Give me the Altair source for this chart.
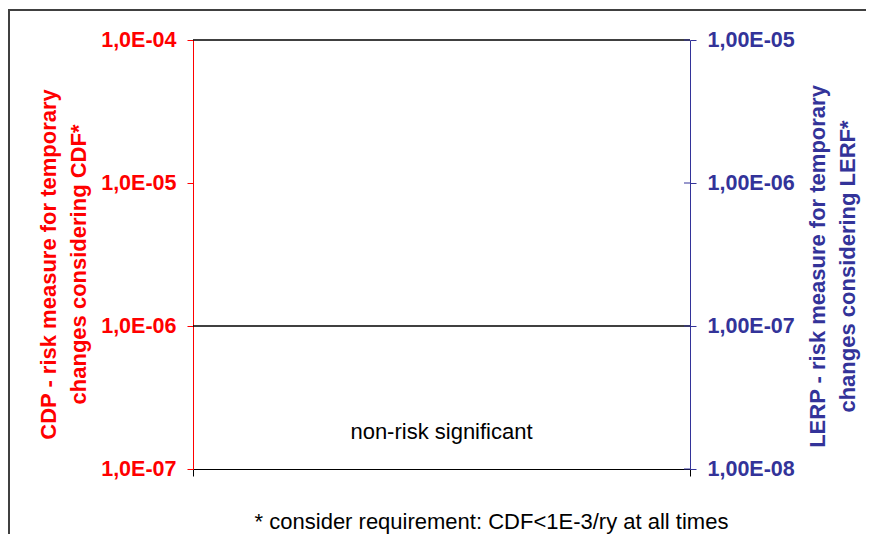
import altair as alt
import pandas as pd

# ---- data ----
left_ticks = [1e-4, 1e-5, 1e-6, 1e-7]
right_ticks = [1e-5, 1e-6, 1e-7, 1e-8]
threshold_lines = [1e-4, 1e-6]
annot_text = ["non-risk significant"]
annot_x = [0.5]
annot_y = [1.8e-7]
footnote = "* consider requirement: CDF<1E-3/ry at all times"
left_title = ["CDP - risk measure for temporary", "changes considering CDF*"]
right_title = ["LERP - risk measure for temporary", "changes considering LERF*"]

RED = "#FF0000"
NAVY = "#333399"
FONT = "Liberation Sans"
W, H = 497, 429

left_scale = alt.Scale(type="log", domain=[1e-7, 1e-4], nice=False)
right_scale = alt.Scale(type="log", domain=[1e-8, 1e-5], nice=False)

left_axis = alt.Axis(
    orient="left", values=left_ticks, grid=False,
    labelExpr="'1,0E-0' + (-round(log(datum.value)/LN10))",
    labelColor=RED, labelFont=FONT, labelFontSize=21.5, labelFontWeight="bold",
    labelPadding=11, tickColor=RED, tickSize=6, domainColor=RED,
    title=left_title, titleColor=RED, titleFont=FONT, titleFontSize=22,
    titleFontWeight="bold", titleAngle=270, titleAlign="center",
    titleBaseline="middle", titleX=-145, titleY=224, titleLineHeight=30,
)
right_axis = alt.Axis(
    orient="right", values=right_ticks, grid=False,
    labelExpr="'1,00E-0' + (-round(log(datum.value)/LN10))",
    labelColor=NAVY, labelFont=FONT, labelFontSize=21.5, labelFontWeight="bold",
    labelPadding=11, tickColor=NAVY, tickSize=6, domainColor=NAVY,
    title=right_title, titleColor=NAVY, titleFont=FONT, titleFontSize=22,
    titleFontWeight="bold", titleAngle=270, titleAlign="center",
    titleBaseline="middle", titleX=127, titleY=226, titleLineHeight=30,
)

lines_df = pd.DataFrame({"y": threshold_lines})
annot_df = pd.DataFrame({"x": annot_x, "y": annot_y, "t": annot_text})
right_df = pd.DataFrame({"y": right_ticks})
one = pd.DataFrame({"k": [0]})

frame = alt.Chart(one).mark_rect(fillOpacity=0, stroke="#404040", strokeWidth=2).encode(
    x=alt.value(-184), x2=alt.value(720), y=alt.value(-30), y2=alt.value(560)
)

rules = alt.Chart(lines_df).mark_rule(color="black", strokeWidth=1.3).encode(
    y=alt.Y("y:Q", scale=left_scale, axis=left_axis)
)

annot = alt.Chart(annot_df).mark_text(
    font=FONT, fontSize=22, color="black", align="center", baseline="middle"
).encode(
    x=alt.X("x:Q", scale=alt.Scale(domain=[0, 1]),
            axis=alt.Axis(values=[0, 1], labels=False, title=None, grid=False,
                          domainColor="black", tickColor="black", tickSize=7)),
    y=alt.Y("y:Q", scale=left_scale, axis=left_axis),
    text="t:N",
)

foot = alt.Chart(one).mark_text(
    text=footnote, font=FONT, fontSize=22, color="black", align="center", baseline="middle"
).encode(x=alt.value(298.5), y=alt.value(482))

left_group = alt.layer(frame, rules, annot, foot)

right_ticks_inner = alt.Chart(right_df).mark_rule(color=NAVY, strokeWidth=1).encode(
    y=alt.Y("y:Q", scale=right_scale, axis=right_axis),
    x=alt.value(W - 6), x2=alt.value(W),
)

chart = alt.layer(left_group, right_ticks_inner).resolve_scale(y="independent").properties(
    width=W, height=H,
    autosize=alt.AutoSizeParams(type="none"),
    padding={"left": 185, "top": 32, "right": 176, "bottom": 65},
    background="white",
).configure_view(stroke=None)

chart.save("out.html", embed_options={"renderer": "svg", "actions": False})
